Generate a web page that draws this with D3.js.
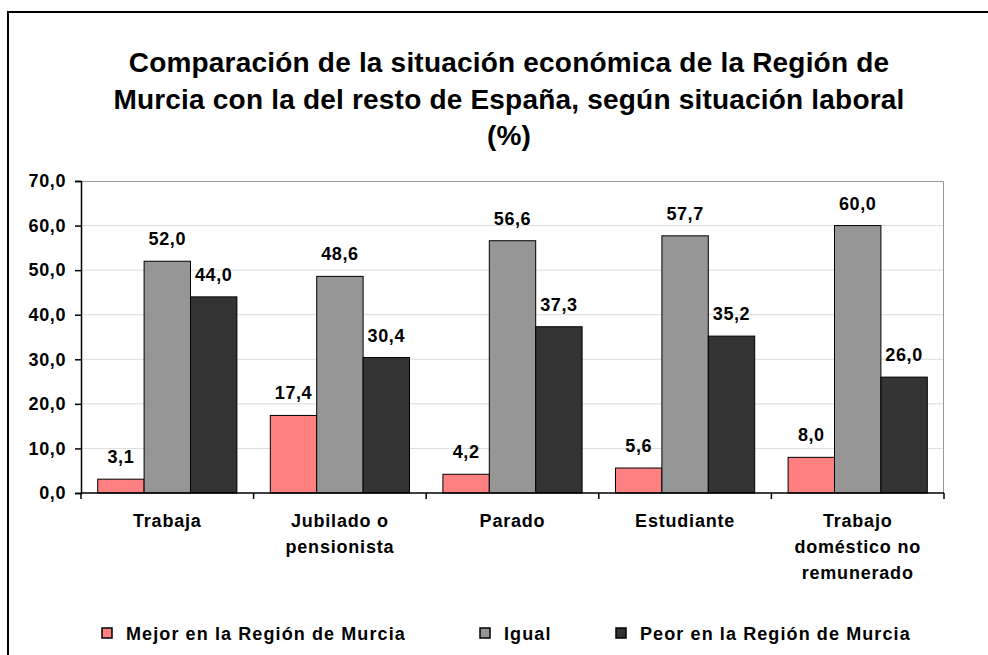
<!DOCTYPE html>
<html>
<head>
<meta charset="utf-8">
<script src="https://cdn.jsdelivr.net/npm/d3@7"></script>
<style>
  body { margin: 0; background: #fff; }
  svg { display: block; font-family: 'Liberation Sans', Arial, sans-serif; font-weight: bold; }
</style>
</head>
<body>
<div class="chart"></div>
<script>
const categories = [
  ['Trabaja'],
  ['Jubilado o', 'pensionista'],
  ['Parado'],
  ['Estudiante'],
  ['Trabajo', 'doméstico no', 'remunerado']
];
const seriesNames = ['Mejor en la Región de Murcia', 'Igual', 'Peor en la Región de Murcia'];
const mejor = [3.1, 17.4, 4.2, 5.6, 8.0];
const igual = [52.0, 48.6, 56.6, 57.7, 60.0];
const peor = [44.0, 30.4, 37.3, 35.2, 26.0];
const yTicks = [0, 10, 20, 30, 40, 50, 60, 70];
const colors = ['#ff8080', '#969696', '#333333'];
const titleLines = [
  'Comparación de la situación económica de la Región de',
  'Murcia con la del resto de España, según situación laboral',
  '(%)'
];

const W = 988, H = 655;
const margin = { top: 181, right: 44, bottom: 162, left: 81 };
const width = W - margin.left - margin.right;
const height = H - margin.top - margin.bottom;

const svg = d3.select('.chart').append('svg')
  .attr('width', W)
  .attr('height', H);

// outer frame
svg.append('rect')
  .attr('x', 8).attr('y', 12)
  .attr('width', W + 10).attr('height', H + 10)
  .attr('fill', 'none')
  .attr('stroke', '#000')
  .attr('stroke-width', 2);

// title
svg.append('text')
  .attr('text-anchor', 'middle')
  .attr('font-size', 28)
  .attr('letter-spacing', 0.2)
  .selectAll('tspan')
  .data(titleLines)
  .enter().append('tspan')
    .attr('x', 509)
    .attr('y', (d, i) => 72 + i * 36.5)
    .text(d => d);

const g = svg.append('g')
  .attr('transform', `translate(${margin.left}, ${margin.top})`);

const x0 = d3.scaleBand()
  .domain(d3.range(categories.length))
  .range([0, width]);

const x1 = d3.scaleBand()
  .domain(d3.range(seriesNames.length))
  .range([0, x0.bandwidth()])
  .paddingInner(0)
  .paddingOuter(0.36);

const y = d3.scaleLinear().domain([0, 70]).range([height, 0]);

// gridlines
g.append('g')
  .selectAll('line')
  .data(yTicks.slice(1, -1))
  .enter().append('line')
    .attr('x1', 0).attr('x2', width)
    .attr('y1', d => y(d)).attr('y2', d => y(d))
    .attr('stroke', '#dcdcdc')
    .attr('stroke-width', 1);

// plot border (top + right)
g.append('path')
  .attr('d', `M0,0.5H${width - 0.5}V${height}`)
  .attr('fill', 'none')
  .attr('stroke', '#999')
  .attr('stroke-width', 1);

const data = [mejor, igual, peor];
const fmt = v => v.toFixed(1).replace('.', ',');

const groups = g.selectAll('.grp')
  .data(categories)
  .enter().append('g')
    .attr('class', 'grp')
    .attr('transform', (d, i) => `translate(${x0(i)},0)`);

groups.selectAll('rect')
  .data((d, i) => data.map((s, k) => ({ k, v: s[i] })))
  .enter().append('rect')
    .attr('x', d => x1(d.k))
    .attr('y', d => y(d.v))
    .attr('width', x1.bandwidth())
    .attr('height', d => height - y(d.v))
    .attr('fill', d => colors[d.k])
    .attr('stroke', '#000')
    .attr('stroke-width', 1);

groups.selectAll('.val')
  .data((d, i) => data.map((s, k) => ({ k, v: s[i] })))
  .enter().append('text')
    .attr('class', 'val')
    .attr('x', d => x1(d.k) + x1.bandwidth() / 2)
    .attr('y', d => y(d.v) - 16)
    .attr('text-anchor', 'middle')
    .attr('font-size', 18)
    .attr('letter-spacing', 0.6)
    .text(d => fmt(d.v));

// y axis
const yAxis = g.append('g')
  .call(d3.axisLeft(y).tickValues(yTicks).tickSize(6).tickPadding(9)
    .tickFormat(fmt));
yAxis.select('.domain').attr('stroke', '#000').attr('stroke-width', 1.5);
yAxis.selectAll('.tick line').attr('stroke-width', 1.5);
yAxis.selectAll('text')
  .attr('font-size', 18)
  .attr('letter-spacing', 0.6)
  .attr('font-family', null)
  .attr('fill', '#000');

// x axis
const xAxis = g.append('g')
  .attr('transform', `translate(0, ${height})`);
xAxis.append('line')
  .attr('x1', 0).attr('x2', width)
  .attr('stroke', '#000').attr('stroke-width', 1.5);
xAxis.selectAll('.tk')
  .data(d3.range(categories.length + 1))
  .enter().append('line')
    .attr('class', 'tk')
    .attr('x1', d => d * x0.step()).attr('x2', d => d * x0.step())
    .attr('y1', 0).attr('y2', 6)
    .attr('stroke', '#000').attr('stroke-width', 1.5);

xAxis.selectAll('.cat')
  .data(categories)
  .enter().append('text')
    .attr('class', 'cat')
    .attr('text-anchor', 'middle')
    .attr('font-size', 18)
    .attr('letter-spacing', 0.8)
    .each(function (d, i) {
      d3.select(this).selectAll('tspan')
        .data(d)
        .enter().append('tspan')
          .attr('x', x0(i) + x0.bandwidth() / 2)
          .attr('y', (t, j) => 34 + j * 26)
          .text(t => t);
    });

// legend
const legendX = [102, 480, 616];
const legend = svg.append('g')
  .selectAll('g')
  .data(seriesNames)
  .enter().append('g')
    .attr('transform', (d, i) => `translate(${legendX[i]}, 628)`);
legend.append('rect')
  .attr('width', 10).attr('height', 10)
  .attr('fill', (d, i) => colors[i])
  .attr('stroke', '#000').attr('stroke-width', 1.5);
legend.append('text')
  .attr('x', 24).attr('y', 12)
  .attr('font-size', 18)
  .attr('letter-spacing', 1.1)
  .text(d => d);
</script>
</body>
</html>
